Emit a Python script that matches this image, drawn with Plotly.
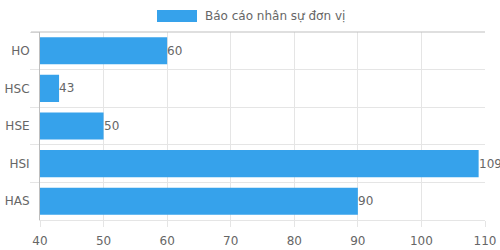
import plotly.graph_objects as go

categories = ["HO", "HSC", "HSE", "HSI", "HAS"]
values = [60, 43, 50, 109, 90]
series_name = "Báo cáo nhân sự đơn vị"
x_ticks = [40, 50, 60, 70, 80, 90, 100, 110]

BLUE = "#36A2EB"
TXT = "#666666"
GRID = "#e5e5e5"
DARK = "#bfbfbf"
FONT = "DejaVu Sans"

W, H = 500, 250
L, R, T, B = 40, 15, 32, 30
pw, ph = W - L - R, H - T - B

def px_x(x):
    return (x - L) / pw

def px_y(y):
    return (H - B - y) / ph

fig = go.Figure()
fig.add_trace(go.Bar(
    y=categories, x=values, orientation="h",
    marker=dict(color=BLUE, line=dict(width=0)),
    name=series_name, showlegend=False,
))

value_labels = [
    dict(text=str(v), x=v, y=c, xref="x", yref="y",
         xanchor="left", yanchor="middle", showarrow=False,
         borderpad=0, borderwidth=0, xshift=0,
         font=dict(family=FONT, size=12, color=TXT))
    for c, v in zip(categories, values)
]

fig.update_layout(
    width=W, height=H,
    margin=dict(l=L, r=R, t=T, b=B, pad=0, autoexpand=False),
    paper_bgcolor="white", plot_bgcolor="white",
    bargap=0.28,
    font=dict(family=FONT, size=12, color=TXT),
    xaxis=dict(
        range=[40, 110], tickvals=x_ticks, automargin=False,
        showgrid=True, gridcolor=GRID, gridwidth=1,
        ticks="outside", ticklen=6, tickcolor=GRID,
        ticklabelstandoff=4,
        zeroline=False, showline=True, linecolor=GRID,
        tickfont=dict(family=FONT, size=12, color=TXT),
    ),
    yaxis=dict(
        type="category", categoryorder="array", categoryarray=categories,
        autorange="reversed", tickson="boundaries", automargin=False,
        showgrid=True, gridcolor=GRID, gridwidth=1,
        ticks="outside", ticklen=9, tickcolor=GRID,
        ticklabelstandoff=7,
        showline=True, linecolor=DARK, zeroline=False,
        tickfont=dict(family=FONT, size=12, color=TXT),
    ),
    shapes=[
        dict(type="line", xref="paper", yref="paper",
             x0=px_x(31), x1=1, y0=1, y1=1,
             line=dict(color=DARK, width=1)),
        dict(type="rect", xref="paper", yref="paper",
             x0=px_x(157), x1=px_x(197), y0=px_y(22), y1=px_y(10),
             fillcolor=BLUE, line=dict(width=0)),
    ],
    annotations=value_labels + [
        dict(text=series_name, xref="paper", yref="paper",
             x=px_x(203), y=px_y(16), xanchor="left", yanchor="middle",
             showarrow=False, font=dict(family=FONT, size=12, color=TXT)),
    ],
)

fig.write_html("out.html")
